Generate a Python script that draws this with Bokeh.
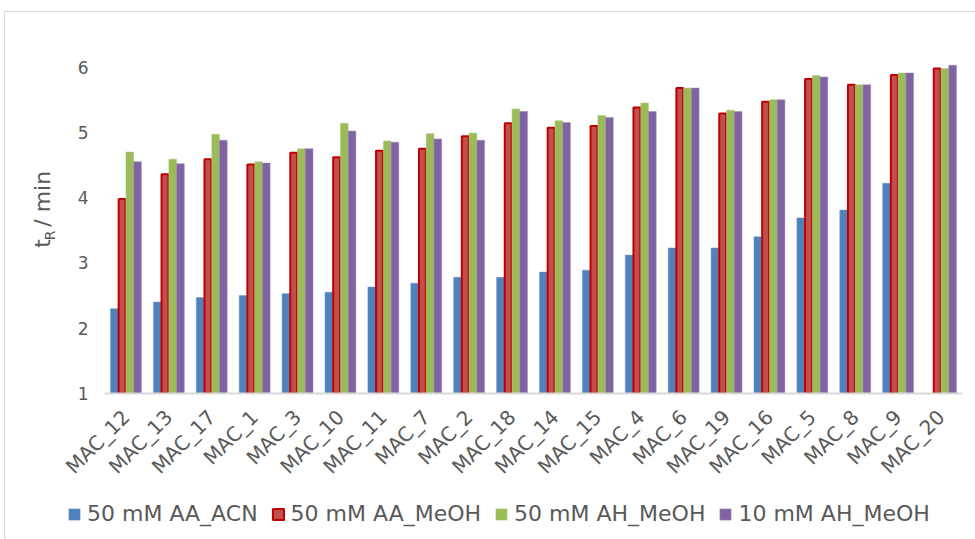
import math
from bokeh.plotting import figure
from bokeh.layouts import column, row
from bokeh.models import ColumnDataSource, FactorRange, Range1d, FixedTicker, Legend, LegendItem
from bokeh.transform import dodge
from bokeh.core.properties import value
from bokeh.embed import file_html
from bokeh.resources import INLINE

nan = float("nan")

categories = ["MAC_12", "MAC_13", "MAC_17", "MAC_1", "MAC_3", "MAC_10", "MAC_11", "MAC_7",
              "MAC_2", "MAC_18", "MAC_14", "MAC_15", "MAC_4", "MAC_6", "MAC_19", "MAC_16",
              "MAC_5", "MAC_8", "MAC_9", "MAC_20"]

aa_acn = [2.30, 2.40, 2.47, 2.50, 2.53, 2.55, 2.63, 2.69, 2.78, 2.78,
          2.86, 2.89, 3.12, 3.23, 3.23, 3.40, 3.69, 3.81, 4.22, nan]
aa_meoh = [3.98, 4.36, 4.59, 4.51, 4.69, 4.62, 4.72, 4.75, 4.94, 5.14,
           5.07, 5.10, 5.38, 5.68, 5.29, 5.47, 5.82, 5.73, 5.88, 5.98]
ah_meoh_50 = [4.70, 4.59, 4.97, 4.55, 4.75, 5.14, 4.87, 4.98, 4.99, 5.36,
              5.18, 5.26, 5.45, 5.68, 5.34, 5.50, 5.87, 5.73, 5.91, 5.98]
ah_meoh_10 = [4.55, 4.52, 4.88, 4.53, 4.75, 5.02, 4.85, 4.90, 4.88, 5.32,
              5.15, 5.23, 5.32, 5.68, 5.32, 5.50, 5.85, 5.73, 5.91, 6.03]

series_names = ["50 mM AA_ACN", "50 mM AA_MeOH", "50 mM AH_MeOH", "10 mM AH_MeOH"]
y_ticks = [1, 2, 3, 4, 5, 6]
y_title_parts = ["t", "R", "/ min"]

src = ColumnDataSource(dict(cat=categories, s0=aa_acn, s1=aa_meoh, s2=ah_meoh_50, s3=ah_meoh_10))

FONT = "DejaVu Sans"
GREY = "#595959"

fills = ["#4F81BD", "#C0504D", "#9BBB59", "#8064A2"]
lines = ["#6E96C8", "#C00000", "#B3CC80", "#9E88BA"]
lws = [1, 2, 1, 1]
lalpha = [0.5, 1.0, 0.5, 0.5]

PH = 478  # height of the main chart canvas


def bare(w, h):
    fig = figure(width=w, height=h, x_range=Range1d(0, w), y_range=Range1d(0, h),
                 x_axis_location=None, y_axis_location=None, output_backend="svg",
                 toolbar_location=None, min_border_left=0, min_border_right=0,
                 min_border_top=0, min_border_bottom=0)
    fig.grid.visible = False
    fig.outline_line_color = None
    return fig


# ---- main chart
p = figure(x_range=FactorRange(*categories, range_padding=0), y_range=Range1d(1, 6.5),
           width=915, height=PH, output_backend="svg", toolbar_location=None,
           min_border_left=44, min_border_right=13, min_border_top=22, min_border_bottom=PH - 22 - 361)
p.outline_line_color = None
p.grid.grid_line_color = None

bw = 0.18
offsets = [-0.27, -0.09, 0.09, 0.27]
for i in range(4):
    p.vbar(x=dodge("cat", offsets[i], range=p.x_range), top="s%d" % i, bottom=1,
           width=bw - (0.02 if i == 1 else 0.0), source=src, fill_color=fills[i],
           line_color=lines[i], line_width=lws[i], line_alpha=lalpha[i])

p.xaxis.axis_line_color = "#d9d9d9"
p.xaxis.axis_line_width = 2
p.xaxis.major_tick_line_color = None
p.xaxis.minor_tick_line_color = None
p.xaxis.major_label_orientation = math.pi / 4
p.xaxis.major_label_text_font = FONT
p.xaxis.major_label_text_font_size = "20px"
p.xaxis.major_label_text_color = GREY
p.xaxis.major_label_standoff = 14

p.yaxis.ticker = FixedTicker(ticks=y_ticks)
p.yaxis.axis_line_color = None
p.yaxis.major_tick_line_color = None
p.yaxis.minor_tick_line_color = None
p.yaxis.major_label_text_font = FONT
p.yaxis.major_label_text_font_size = "17px"
p.yaxis.major_label_text_color = GREY
p.yaxis.major_label_standoff = 10

# ---- y-axis title panel (t_R / min)
tfig = bare(55, PH)
tfig.text(x=[37, 44, 37], y=[194, 204, 222], text=y_title_parts, angle=math.pi / 2,
          text_font=value(FONT), text_font_size=["22px", "14px", "22px"], text_color=GREY,
          text_align="left", text_baseline="alphabetic")

# ---- legend panel
lfig = bare(970, 527 - PH)
items = []
for i in range(4):
    r = lfig.vbar(x=[-50], top=[-50], bottom=[-60], width=1, fill_color=fills[i], line_color=lines[i],
                  line_width=lws[i], line_alpha=lalpha[i])
    items.append(LegendItem(label=series_names[i], renderers=[r]))
legend = Legend(items=items, orientation="horizontal", location=(62, 13),
                glyph_width=14, glyph_height=14, label_standoff=6, spacing=13, padding=0, margin=0,
                label_text_font=FONT, label_text_font_size="22px", label_text_color=GREY,
                label_height=22, border_line_color=None, background_fill_alpha=0)
lfig.add_layout(legend, "center")

layout = column(row(tfig, p, spacing=0), lfig, spacing=0)
layout.styles = {"margin-left": "4px", "margin-top": "11px",
                 "border-top": "1px solid #d9d9d9", "border-left": "1px solid #d9d9d9"}

open("out.html", "w").write(file_html(layout, INLINE))
